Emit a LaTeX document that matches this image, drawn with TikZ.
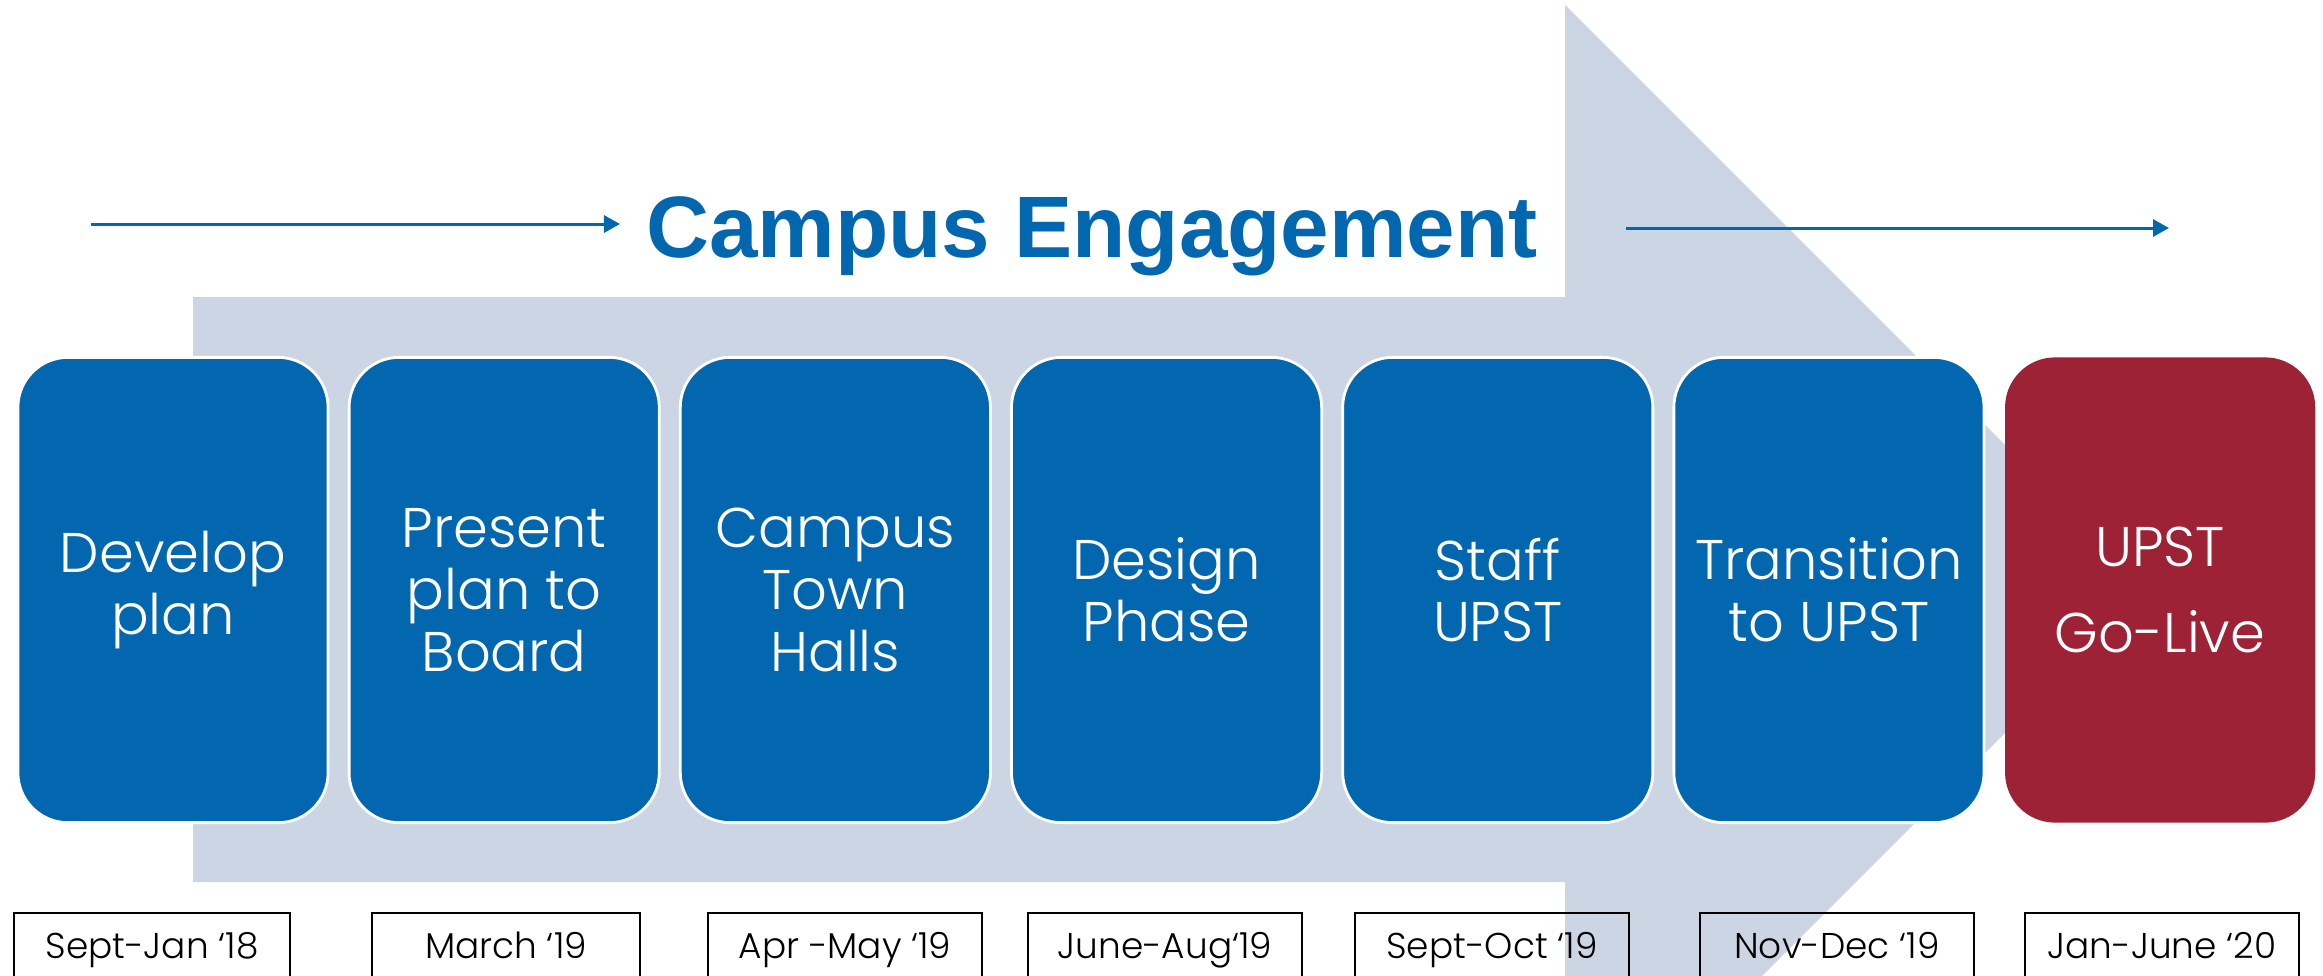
\documentclass[tikz,border=0pt]{standalone}
\usepackage{fontspec}
\setmainfont{Poppins}[UprightFont=* Light]
\newfontfamily\headfont{Liberation Sans}
\usetikzlibrary{arrows.meta, positioning}
\definecolor{upblue}{RGB}{2,103,174}
\definecolor{upred}{RGB}{157,34,53}
\definecolor{upgrey}{RGB}{203,213,227}

\begin{document}
\begin{tikzpicture}[x=0.01cm,y=-0.01cm,node distance=3.31cm,on grid,
      >={Triangle[length=0.16cm,width=0.17cm]},
      phase/.style={draw=white,line width=0.8pt,fill=upblue,text=white,rounded corners=0.5cm,
        minimum width=3.1cm,minimum height=4.65cm,align=center,
        font=\fontsize{15.9}{17.6}\selectfont},
      golive/.style={phase,draw=none,fill=upred},
      when/.style={draw,line width=0.6pt,minimum width=2.73cm,inner xsep=0pt,inner ysep=0pt,
        text height=0.45cm,text depth=0.3cm,anchor=base,font=\fontsize{10.2}{12}\selectfont}]
      \useasboundingbox (0,0) rectangle (2323,975);
      % big arrow behind the phases
      \fill[upgrey] (193,297) -- (1565,297) -- (1565,5) -- (2149,589)
        -- (1565,1173) -- (1565,882) -- (193,882) -- cycle;
      \node[phase]   (develop) at (173,590) {Develop\\plan};
      \node[phase]   (present) [right=of develop] {Present\\plan to\\Board};
      \node[phase]   (halls) [right=of present] {Campus\\Town\\Halls};
      \node[phase]   (design) [right=of halls] {Design\\Phase};
      \node[phase]   (staff) [right=of design] {Staff\\UPST};
      \node[phase]   (transition) [right=of staff] {Transition\\to UPST};
      \node[golive]  (golive) [right=of transition] {UPST\\[0.24cm]Go-Live};
      \node[anchor=base,text=upblue,font=\headfont\bfseries\fontsize{24.8}{28}\selectfont]
        (title) at (1092,257) {Campus Engagement};
      \coordinate (lstart) at (91,224);
      \coordinate (lend) at (620,224);
      \coordinate (rstart) at (1626,228);
      \coordinate (rend) at (2169,228);
      \draw[->,upblue,line width=0.85pt] (lstart) -- (lend);
      \draw[->,upblue,line width=0.85pt] (rstart) -- (rend);
      % dates
      \node[when,minimum width=2.76cm] (d_1) at (152,958) {Sept-Jan ‘18};
      \node[when,minimum width=2.67cm] (d_2) at (506,958) {March ‘19};
      \node[when] (d_3) at (845,958) {Apr -May ‘19};
      \node[when] (d_4) at (1165,958) {June-Aug‘19};
      \node[when] (d_5) at (1492,958) {Sept-Oct ‘19};
      \node[when] (d_6) at (1837,958) {Nov-Dec ‘19};
      \node[when] (d_7) at (2162,958) {Jan-June ‘20};
    \end{tikzpicture}
\end{document}
